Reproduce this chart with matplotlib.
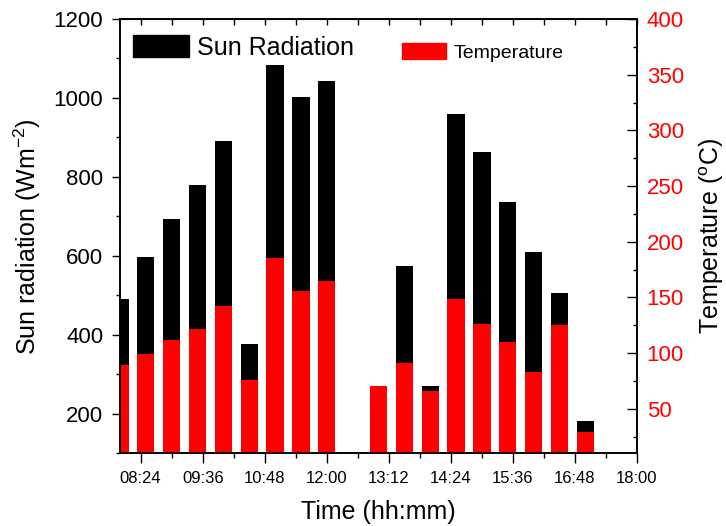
import numpy as np
import matplotlib
matplotlib.use("Agg")
import matplotlib.pyplot as plt
from matplotlib.patches import Patch
from matplotlib.ticker import MultipleLocator, FuncFormatter, FixedLocator

plt.rcParams['font.family'] = ['Liberation Sans', 'DejaVu Sans']
plt.rcParams['mathtext.fontset'] = 'custom'
plt.rcParams['mathtext.rm'] = 'Liberation Sans'
plt.rcParams['mathtext.it'] = 'Liberation Sans:italic'

# time of day in hours (12:30 has no reading)
hours = [8.0, 8.5, 9.0, 9.5, 10.0, 10.5, 11.0, 11.5, 12.0,
         13.0, 13.5, 14.0, 14.5, 15.0, 15.5, 16.0, 16.5, 17.0]
radiation = [490, 596, 693, 779, 891, 376, 1084, 1003, 1043,
             np.nan, 574, 270, 960, 862, 736, 609, 505, 182]
temperature = [89, 99, 112, 122, 142, 76, 185, 156, 165,
               70, 91, 66, 149, 126, 110, 83, 125, 29]

major_ticks = [8.4, 9.6, 10.8, 12.0, 13.2, 14.4, 15.6, 16.8, 18.0]
minor_ticks = [9.0, 10.2, 11.4, 12.6, 13.8, 15.0, 16.2, 17.4]


def hhmm(x, pos=None):
    m = int(round(x * 60))
    return "%02d:%02d" % (m // 60, m % 60)


fig = plt.figure(figsize=(7.26, 5.26), dpi=100)
ax = fig.add_axes([0.1653, 0.1382, 0.7121, 0.8257])
ax2 = ax.twinx()

w = 1 / 3.0
ax.bar(hours, radiation, width=w, color='black', zorder=2)
ax2.bar(hours, temperature, width=w, color='#ff0000', zorder=2)

ax.set_xlim(8, 18)
ax.set_ylim(100, 1200)
ax2.set_ylim(10, 400)

ax.xaxis.set_major_locator(FixedLocator(major_ticks))
ax.xaxis.set_minor_locator(FixedLocator(minor_ticks))
ax.xaxis.set_major_formatter(FuncFormatter(hhmm))
ax.yaxis.set_major_locator(MultipleLocator(200))
ax.yaxis.set_minor_locator(MultipleLocator(100))
ax2.yaxis.set_major_locator(MultipleLocator(50))
ax2.yaxis.set_minor_locator(MultipleLocator(25))

ax.tick_params(axis='x', which='major', direction='out', length=7, width=1,
               labelsize=12, pad=6, top=False)
ax.tick_params(axis='x', which='minor', direction='out', length=3.5, width=1, top=False)
ax.tick_params(axis='y', which='major', direction='out', length=6, width=1,
               labelsize=16, pad=6)
ax.tick_params(axis='y', which='minor', direction='out', length=3, width=1)
ax2.tick_params(axis='y', which='major', direction='in', length=7, width=1,
                labelsize=16, pad=7, labelcolor='#ff0000')
ax2.tick_params(axis='y', which='minor', direction='in', length=3, width=1)

# inward ticks on the top edge
top = ax.secondary_xaxis('top')
top.xaxis.set_major_locator(FixedLocator(major_ticks + minor_ticks))
top.tick_params(direction='in', length=4, width=1, labeltop=False)

for a in (ax, ax2):
    for s in a.spines.values():
        s.set_linewidth(1.2)

ax.set_xlabel('Time (hh:mm)', fontsize=18, labelpad=10)
ax.set_ylabel('Sun radiation (Wm$^{-2}$)', fontsize=18, labelpad=8)
ax2.set_ylabel(r'Temperature ($^{\rm o}$C)', fontsize=18, labelpad=10)

leg1 = ax2.legend(handles=[Patch(color='black')], labels=['Sun Radiation'],
                  loc='upper left', bbox_to_anchor=(0.025, 0.962), frameon=False,
                  fontsize=18, borderpad=0, borderaxespad=0,
                  handlelength=2.25, handleheight=0.95, handletextpad=0.32)
ax2.add_artist(leg1)
ax2.legend(handles=[Patch(color='#ff0000')], labels=['Temperature'],
           loc='upper left', bbox_to_anchor=(0.545, 0.945), frameon=False,
           fontsize=14, borderpad=0, borderaxespad=0,
           handlelength=2.3, handleheight=0.9, handletextpad=0.36)

fig.savefig('out.png', dpi=100)
